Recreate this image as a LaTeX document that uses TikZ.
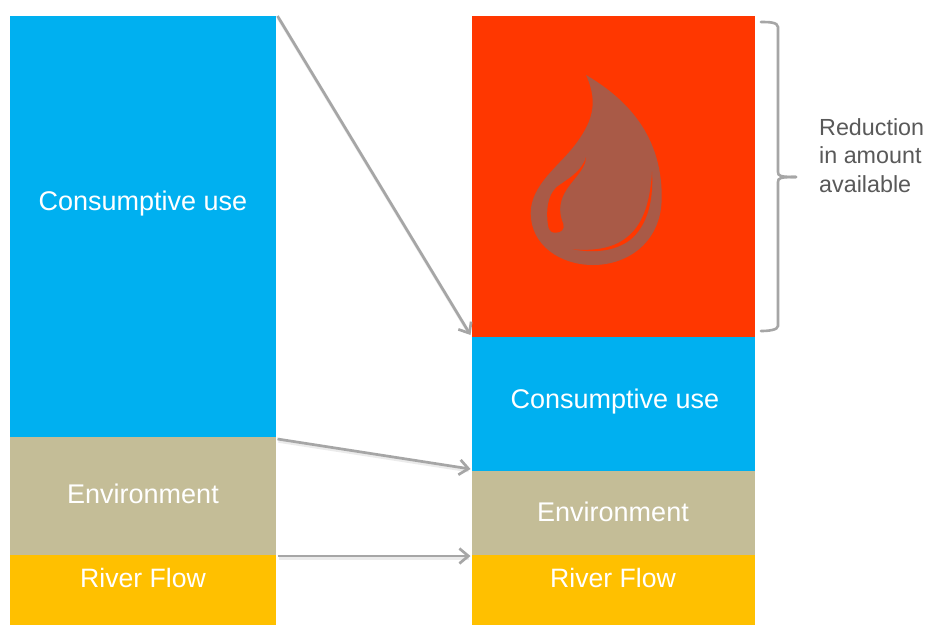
\documentclass[tikz,border=0pt]{standalone}
\usepackage{fontspec}
\setmainfont{Liberation Sans}
\usetikzlibrary{arrows.meta,calc}
\definecolor{bluebar}{HTML}{00B0F0}
\definecolor{khaki}{HTML}{C4BD97}
\definecolor{amber}{HTML}{FFC000}
\definecolor{redbar}{HTML}{FF3700}
\definecolor{dropc}{HTML}{A95A47}
\definecolor{linkgray}{HTML}{A6A6A6}
\definecolor{textgray}{HTML}{595959}
\tikzset{
  x=1pt,y=-1pt,
  bar/.style={draw=none,inner sep=0pt,outer sep=0pt,minimum width=#1,anchor=north west},
  barblue/.style={bar=#1,fill=bluebar},
  barkhaki/.style={bar=#1,fill=khaki},
  baramber/.style={bar=#1,fill=amber},
  barred/.style={bar=#1,fill=redbar},
  bartext/.style={text=white,font=\fontsize{27}{30}\selectfont,inner sep=0pt},
  linkhalo/.style={draw=black,line width=3.5pt,opacity=.08},
  link/.style={draw=linkgray,line width=2.7pt,-{Straight Barb[length=9pt,width=15pt,line width=2.7pt]}},
  bracketline/.style={draw=linkgray,line width=2.6pt,line cap=round},
  note/.style={align=left,anchor=north west,inner sep=0pt,text=textgray,font=\fontsize{23.3}{28.5}\selectfont}
}
\begin{document}
\begin{tikzpicture}
\useasboundingbox (0,0) rectangle (927,625);
\fill[white] (0,0) rectangle (927,625);
% left stack
\node[barblue=266pt,minimum height=421pt] (lcons) at (10,16) {};
\node[barkhaki=266pt,minimum height=118pt] (lenv) at (10,437) {};
\node[baramber=266pt,minimum height=70pt] (lriver) at (10,555) {};
\node[bartext] (lconst) at (143,204) {Consumptive use};
\node[bartext] (lenvt) at (143,494) {Environment};
\node[bartext,font=\fontsize{26.6}{30}\selectfont] (lrivt) at (143,578) {River Flow};
% right stack
\node[barred=283pt,minimum height=321pt] (rred) at (472,16) {};
\node[barblue=283pt,minimum height=134pt] (rcons) at (472,337) {};
\node[barkhaki=283pt,minimum height=84pt] (renv) at (472,471) {};
\node[baramber=283pt,minimum height=70pt] (rriver) at (472,555) {};
\node[bartext] (rconst) at (615,402) {Consumptive use};
\node[bartext] (renvt) at (613,512) {Environment};
\node[bartext,font=\fontsize{26.6}{30}\selectfont] (rrivt) at (613,578) {River Flow};
% drop
\fill[dropc] (586,75)
  .. controls (620,95) and (662,130) .. (661.7,197)
  .. controls (662,240) and (630,265) .. (593,265)
  .. controls (560,265) and (530.7,245) .. (530.7,213)
  .. controls (530.7,185) and (560,165) .. (575,145)
  .. controls (590,125) and (600,105) .. (586,75) -- cycle;
\fill[redbar] (586,157)
  .. controls (582,172) and (566,180) .. (556.7,187)
  .. controls (547,196) and (546,212) .. (548,225)
  .. controls (549,232) and (553,233) .. (556,232.7)
  .. controls (561,232.7) and (565,229) .. (563.3,224)
  .. controls (559,214) and (559,204) .. (564,194)
  .. controls (571,180) and (586,170) .. (586,157) -- cycle;
\fill[redbar] (652,171.7)
  .. controls (654,205) and (645,228) .. (630,240)
  .. controls (614,252) and (592,253) .. (572.7,249.3)
  .. controls (592,251) and (612,249) .. (626,238)
  .. controls (642,226) and (650,205) .. (652,171.7) -- cycle;
% connectors
\coordinate (a1) at ([xshift=1.5pt]lcons.north east);
\coordinate (b1) at ([xshift=-1.5pt,yshift=2pt]rred.south west);
\coordinate (a2) at ([xshift=1.5pt,yshift=-2pt]lenv.north east);
\coordinate (b2) at ([xshift=-1.5pt,yshift=2pt]renv.north west);
\coordinate (a3) at ([xshift=1.5pt,yshift=-1pt]lriver.north east);
\coordinate (b3) at ([xshift=-1.5pt,yshift=-1pt]rriver.north west);
\foreach \p/\q in {a1/b1,a2/b2,a3/b3}{
  \coordinate (h) at ($(\p)!.985!(\q)$);
  \draw[linkhalo] ([xshift=1pt,yshift=-2pt]\p) -- ([xshift=1pt,yshift=-2pt]h);
}
\draw[link] (a1) -- (b1);
\draw[link] (a2) -- (b2);
\draw[link] (a3) -- (b3);
% bracket
\coordinate (bra) at (761,22);
\coordinate (brb) at (761,331);
\coordinate (brm) at (796,177);
\draw[bracketline] (bra) .. controls (768,22) and (778,22) .. (778,27)
  -- (778,172) .. controls (778,176) and (780,177) .. (brm);
\draw[bracketline] (brm) .. controls (780,177) and (778,178) .. (778,182)
  -- (778,326) .. controls (778,330) and (768,331) .. (brb);
\node[note] (lbl) at (819,118) {Reduction\\in amount\\available};
\end{tikzpicture}
\end{document}
